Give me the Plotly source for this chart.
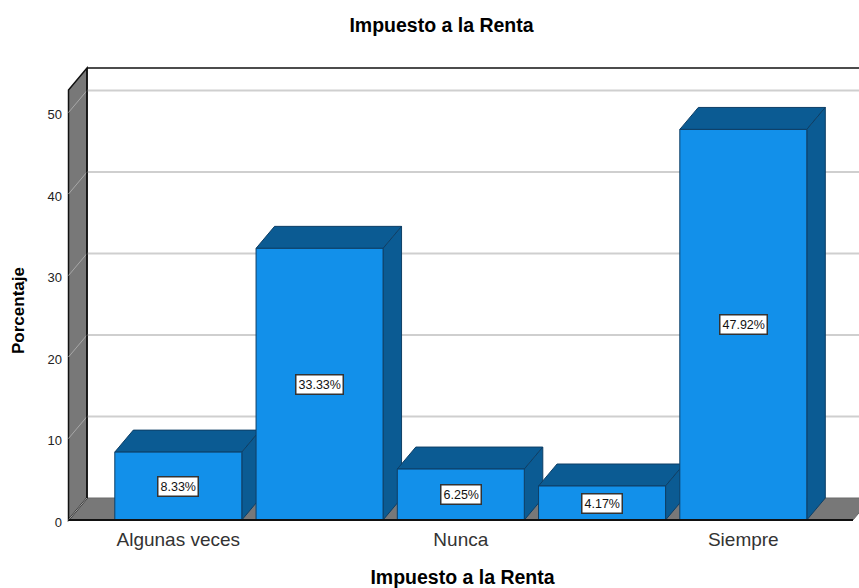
import plotly.graph_objects as go

categories = ["Algunas veces", "Casi siempre", "Nunca", "Casi nunca", "Siempre"]
percentages = [8.33, 33.33, 6.25, 4.17, 47.92]
x_ticks = [0, 2, 4]
x_tick_labels = ["Algunas veces", "Nunca", "Siempre"]
y_ticks = [0, 10, 20, 30, 40, 50]
title_text = "Impuesto a la Renta"
y_title = "Porcentaje"

FRONT = "#1290EA"
SIDE = "#0B5B93"
EDGE = "#0E3F66"
WALL = "#787878"
GRID = "#CFCFCF"
WALL_GRID = "#A8A8A8"

W, H = 859, 588
PX_PER_CAT = 141.25
PX_PER_UNIT = 8.15
CAT0_PX = 178.3
Y0_PX = 520
L, T, B = 66, 66, 66
DX = 18.5 / PX_PER_CAT
DY = 22 / PX_PER_UNIT
BAR_W = 127 / PX_PER_CAT
XMIN = (L - CAT0_PX) / PX_PER_CAT
XMAX = (W - CAT0_PX) / PX_PER_CAT
YMIN = (Y0_PX - (H - B)) / PX_PER_UNIT
YMAX = (Y0_PX - T) / PX_PER_UNIT
X_FRONT_L = (68.5 - CAT0_PX) / PX_PER_CAT
X_FRONT_R = (853 - CAT0_PX) / PX_PER_CAT
Y_TOP = (Y0_PX - 90) / PX_PER_UNIT


def poly(pts):
    return "M " + " L ".join(f"{x:.4f},{y:.4f}" for x, y in pts) + " Z"


def path(pts, fill, color, width):
    return dict(type="path", xref="x", yref="y", path=poly(pts), fillcolor=fill,
                line=dict(color=color, width=width), layer="below")


def line(x0, y0, x1, y1, color, width, layer="below"):
    return dict(type="line", xref="x", yref="y", x0=x0, y0=y0, x1=x1, y1=y1,
                line=dict(color=color, width=width), layer=layer)


shapes = []
# floor
shapes.append(path([(X_FRONT_L, 0), (X_FRONT_R, 0), (X_FRONT_R + DX, DY), (X_FRONT_L + DX, DY)],
                   WALL, "#6a6a6a", 1))
# left wall
shapes.append(path([(X_FRONT_L, 0), (X_FRONT_L + DX, DY), (X_FRONT_L + DX, Y_TOP + DY), (X_FRONT_L, Y_TOP)],
                   WALL, "#111111", 1.5))
# back-wall and left-wall gridlines
for t in y_ticks[1:]:
    shapes.append(line(X_FRONT_L + DX, t + DY, X_FRONT_R + DX, t + DY, GRID, 2))
    shapes.append(line(X_FRONT_L, t, X_FRONT_L + DX, t + DY, WALL_GRID, 1))
# back frame
shapes.append(line(X_FRONT_L + DX, Y_TOP + DY, X_FRONT_R + DX, Y_TOP + DY, "#111111", 1.5))
shapes.append(line(X_FRONT_L + DX, DY, X_FRONT_L + DX, Y_TOP + DY, "#111111", 1.5))
# floor back edge on the wall side
shapes.append(line(X_FRONT_L, 0, X_FRONT_L + DX, DY, WALL_GRID, 1))

# depth of bars
for i, v in enumerate(percentages):
    xl, xr = i - BAR_W / 2, i + BAR_W / 2
    shapes.append(path([(xl, v), (xr, v), (xr + DX, v + DY), (xl + DX, v + DY)], SIDE, EDGE, 1))
    shapes.append(path([(xr, 0), (xr + DX, DY), (xr + DX, v + DY), (xr, v)], SIDE, EDGE, 1))

# floor front edge
shapes.append(line(X_FRONT_L, 0, X_FRONT_R, 0, "#111111", 2, layer="above"))

fig = go.Figure(
    go.Bar(
        x=list(range(len(categories))),
        y=percentages,
        width=BAR_W,
        marker=dict(color=FRONT, line=dict(color=EDGE, width=1)),
        customdata=categories,
        hovertemplate="%{customdata}: %{y:.2f}%<extra></extra>",
    )
)

annotations = [
    dict(x=i, y=v / 2, xref="x", yref="y", text=f"{v:.2f}%", showarrow=False,
         font=dict(family="Liberation Sans, Arial", size=12.5, color="#111111"),
         bgcolor="#FFFFFF", bordercolor="#333333", borderwidth=1.5, borderpad=2)
    for i, v in enumerate(percentages)
]
annotations.append(
    dict(x=(18 - L) / (W - L), y=((H - B) - 311) / (H - T - B), xref="paper", yref="paper",
         yanchor="middle", xanchor="center",
         text=f"<b>{y_title}</b>", textangle=-90, showarrow=False,
         font=dict(size=17, color="#000000", family="Liberation Sans, Arial"))
)

fig.update_layout(
    width=W,
    height=H,
    autosize=False,
    margin=dict(l=L, r=0, t=T, b=B),
    paper_bgcolor="#FFFFFF",
    plot_bgcolor="#FFFFFF",
    showlegend=False,
    shapes=shapes,
    annotations=annotations,
    font=dict(family="Liberation Sans, Arial", color="#222222"),
    title=dict(text=f"<b>{title_text}</b>", x=441.5 / W, xanchor="center",
               y=1 - 25 / H, yanchor="middle",
               font=dict(size=19.5, color="#000000", family="Liberation Sans, Arial")),
    xaxis=dict(
        range=[XMIN, XMAX], tickvals=x_ticks, ticktext=x_tick_labels, ticks="",
        showgrid=False, zeroline=False, showline=False,
        tickfont=dict(size=19, color="#333333"), ticklabelstandoff=4,
        title=dict(text=f"<b>{title_text}</b>", standoff=21,
                   font=dict(size=19.5, color="#000000")),
    ),
    yaxis=dict(
        range=[YMIN, YMAX], tickvals=y_ticks, ticks="",
        showgrid=False, zeroline=False, showline=False,
        tickfont=dict(size=13, color="#222222"), ticklabelstandoff=3, ticklabelshift=2,
    ),
)

fig.write_html("out.html", post_script="document.body.style.margin='0';",
               config={"displayModeBar": False})
